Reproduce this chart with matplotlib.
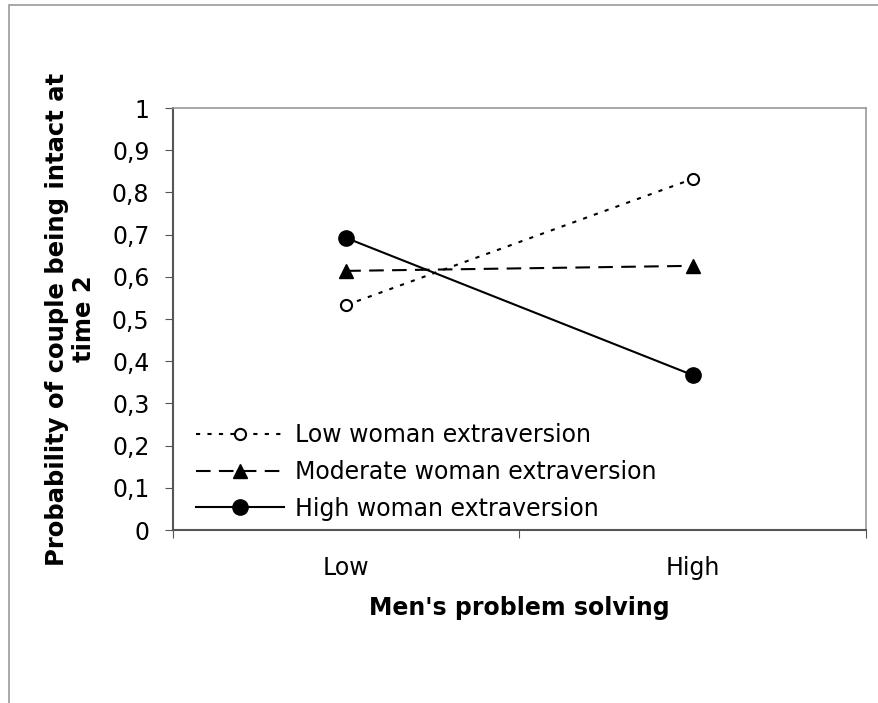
import matplotlib.pyplot as plt
from matplotlib.patches import Rectangle

categories = ['Low', 'High']
low_woman = [0.533, 0.832]
moderate_woman = [0.614, 0.626]
high_woman = [0.692, 0.367]
yticks = [0, 0.1, 0.2, 0.3, 0.4, 0.5, 0.6, 0.7, 0.8, 0.9, 1]

plt.rcParams['font.family'] = ['DejaVu Sans']
fs = 17

fig = plt.figure(figsize=(8.79, 7.03), dpi=100)
# outer chart border
fig.patches.append(Rectangle((9 / 879, -0.1), 1.2, 1 - 5 / 703 + 0.1, transform=fig.transFigure,
                             fill=False, edgecolor='#999999', lw=1.2))
ax = fig.add_axes([173 / 879, 1 - 530 / 703, (866 - 173) / 879, (530 - 108) / 703])

x = [0.5, 1.5]
ax.plot(x, low_woman, linestyle=(0, (2, 3.5)), color='black', lw=1.5, marker='o',
        markersize=8, markerfacecolor='white', markeredgecolor='black', markeredgewidth=1.5,
        label='Low woman extraversion')
ax.plot(x, moderate_woman, linestyle=(0, (7, 4)), color='black', lw=1.5, marker='^',
        markersize=10, label='Moderate woman extraversion')
ax.plot(x, high_woman, linestyle='-', color='black', lw=1.5, marker='o',
        markersize=11, label='High woman extraversion')

ax.set_xlim(0, 2)
ax.set_ylim(0, 1)
ax.set_xticks([0, 1, 2])
ax.set_xticklabels([])
ax.set_xticks(x, minor=True)
ax.set_xticklabels(categories, minor=True, fontsize=fs)
ax.tick_params(axis='x', which='minor', length=0, pad=19)
ax.tick_params(axis='x', which='major', length=6, color='#555555', direction='out')
ax.set_yticks(yticks)
ax.set_yticklabels([('%g' % v).replace('.', ',') for v in yticks], fontsize=fs)
ax.tick_params(axis='y', length=6, color='#555555', pad=11)

for s in ['top', 'right']:
    ax.spines[s].set_color('#999999')
    ax.spines[s].set_linewidth(1.2)
for s in ['left', 'bottom']:
    ax.spines[s].set_color('#555555')
    ax.spines[s].set_linewidth(1.5)

ax.set_xlabel("Men's problem solving", fontsize=fs, fontweight='bold', labelpad=11)
ax.set_ylabel('Probability of couple being intact at\ntime 2', fontsize=17.5,
              fontweight='bold', labelpad=11)

ax.legend(loc='lower left', bbox_to_anchor=(0.02, 0.0), frameon=False, fontsize=fs,
          handlelength=3.7, handletextpad=0.5, labelspacing=0.54, borderaxespad=0)

fig.savefig('out.png', dpi=100)
